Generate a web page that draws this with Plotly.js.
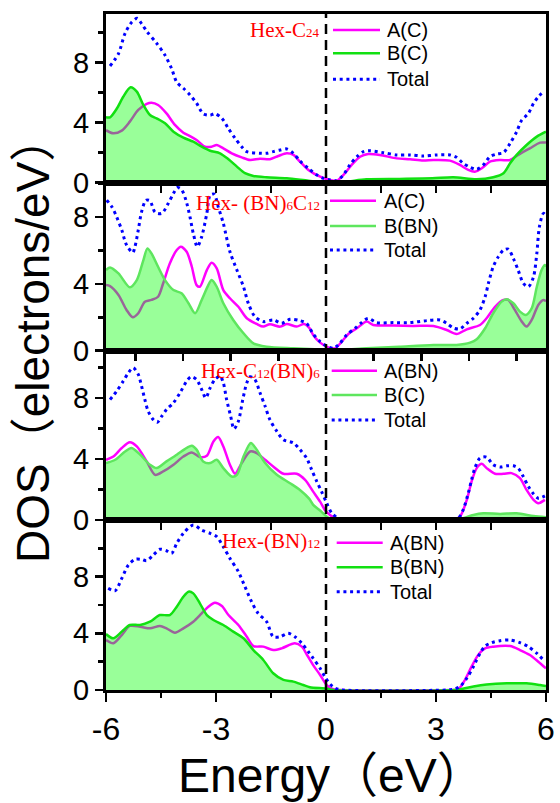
<!DOCTYPE html>
<html><head><meta charset="utf-8">
<script src="https://cdn.plot.ly/plotly-3.0.1.min.js"></script>
<style>html,body{margin:0;padding:0;background:#fff;}#chart{width:560px;height:803px;}</style>
</head><body><div id="chart"></div>
<script>
// ---------- Panel 1: Hex-C24 ----------
const p1_A_x = [-6,-5.8,-5.57,-5.35,-5.12,-4.89,-4.76,-4.58,-4.35,-4.12,-3.89,-3.71,-3.53,-3.3,-3.12,-2.98,-2.8,-2.57,-2.3,-2.07,-1.8,-1.53,-1.3,-1.07,-0.89,-0.71,-0.48,-0.16,0.11,0.29,0.47,0.7,0.93,1.15,1.47,1.93,2.29,2.65,2.93,3.38,3.65,3.88,4.06,4.25,4.47,4.75,5.02,5.24,5.56,5.84,6];
const p1_A_y = [3.5,3.29,3.47,4.07,4.85,5.25,5.33,5.18,4.62,3.85,3.33,3.11,2.85,2.4,2.4,2.51,2.29,1.96,1.69,1.51,1.6,1.56,1.78,1.96,1.85,1.4,0.85,0.4,0.18,0.13,0.5,1.18,1.73,1.91,1.85,1.62,1.56,1.47,1.51,1.47,1.18,0.85,0.73,0.96,1.4,1.51,1.51,1.85,2.29,2.67,2.67];
const p1_B_x = [-6,-5.89,-5.7,-5.53,-5.33,-5.16,-4.98,-4.8,-4.62,-4.39,-4.16,-3.89,-3.62,-3.39,-3.16,-2.89,-2.66,-2.43,-2.21,-1.98,-1.62,-1.07,-0.48,0,0.5,1.1,2.0,2.9,3.47,4.11,4.56,4.84,5.02,5.2,5.47,5.75,6];
const p1_B_y = [4.36,4.36,4.96,5.73,6.36,6.07,5.18,4.51,4.29,3.96,3.4,3.0,2.73,2.4,2.13,1.96,1.56,1.07,0.63,0.45,0.36,0.29,0.13,0.02,0.05,0.22,0.25,0.29,0.36,0.22,0.36,0.63,1.29,1.85,2.51,3.07,3.4];
const p1_T_x = [-5.89,-5.66,-5.48,-5.3,-5.15,-5.03,-4.88,-4.62,-4.39,-4.21,-4.07,-3.89,-3.71,-3.53,-3.35,-3.16,-3.03,-2.84,-2.66,-2.48,-2.3,-2.16,-1.8,-1.62,-1.44,-1.25,-1.07,-0.89,-0.71,-0.48,-0.25,-0.07,0.11,0.29,0.47,0.65,0.84,1.02,1.2,1.56,1.93,2.29,2.65,3.02,3.38,3.56,3.74,3.93,4.11,4.29,4.47,4.66,4.84,5.02,5.2,5.34,5.52,5.66,5.79,5.93];
const p1_T_y = [7.78,8.6,9.96,10.7,10.96,10.6,10.07,9.3,8.5,7.6,6.7,6.3,5.85,5.3,4.6,4.5,4.6,4.3,3.6,2.96,2.4,2.07,1.96,1.96,2.07,2.18,2.25,1.96,1.45,0.95,0.51,0.29,0.18,0.13,0.51,1.18,1.73,2.07,2.13,2.0,1.85,1.85,1.78,1.85,1.85,1.69,1.29,1.03,0.89,1.18,1.73,1.91,2.0,2.62,3.4,4.18,4.62,5.29,5.73,6.07];

// ---------- Panel 2: Hex-(BN)6C12 ----------
const p2_A_x = [-6,-5.89,-5.66,-5.44,-5.27,-5.12,-4.94,-4.76,-4.58,-4.44,-4.26,-4.07,-3.96,-3.8,-3.66,-3.53,-3.44,-3.25,-3.12,-2.98,-2.8,-2.62,-2.39,-2.16,-1.89,-1.71,-1.53,-1.25,-1.07,-0.8,-0.6,-0.45,-0.35,-0.16,0.06,0.25,0.43,0.61,0.84,1.11,1.29,1.84,2.38,2.93,3.29,3.56,3.84,4.2,4.38,4.61,4.84,4.97,5.15,5.34,5.47,5.61,5.79,5.93,6];
const p2_A_y = [3.93,3.87,3.34,2.44,2.0,2.24,2.93,3.04,3.23,4.04,5.23,6.03,6.23,5.93,5.03,3.93,3.83,4.83,5.27,4.93,3.63,3.14,2.63,1.94,1.6,1.44,1.58,1.44,1.6,1.44,1.6,1.35,0.94,0.48,0.2,0.14,0.54,1.0,1.34,1.74,1.54,1.5,1.48,1.48,1.24,1.0,1.28,1.54,1.94,2.63,3.04,3.04,2.44,1.74,1.44,1.84,2.74,3.04,2.96];
const p2_B_x = [-6,-5.89,-5.66,-5.35,-5.16,-4.98,-4.87,-4.76,-4.58,-4.39,-4.16,-3.94,-3.75,-3.57,-3.39,-3.21,-3.12,-2.98,-2.8,-2.53,-2.25,-1.98,-1.62,-0.89,-0.3,0.2,1.1,2.0,2.93,3.56,3.93,4.11,4.34,4.56,4.79,4.93,5.11,5.29,5.45,5.61,5.75,5.88,5.97,6];
const p2_B_y = [4.83,4.99,4.63,3.8,4.23,5.43,6.13,5.83,5.03,4.23,3.63,3.44,2.84,2.24,3.04,3.93,4.23,3.83,2.84,1.84,1.04,0.44,0.24,0.14,0.08,0.03,0.14,0.24,0.34,0.34,0.48,0.68,1.34,2.24,2.94,3.08,2.84,2.34,2.14,2.54,3.83,4.83,5.13,5.03];
const p2_T_x = [-5.98,-5.84,-5.71,-5.57,-5.44,-5.27,-5.21,-5.12,-5.03,-4.91,-4.8,-4.66,-4.48,-4.3,-4.16,-4.05,-3.94,-3.82,-3.71,-3.62,-3.51,-3.39,-3.25,-3.16,-3.05,-2.94,-2.8,-2.62,-2.43,-2.25,-2.12,-1.94,-1.71,-1.44,-1.21,-0.98,-0.71,-0.53,-0.35,-0.16,0.02,0.2,0.38,0.56,0.79,0.97,1.15,1.38,1.84,2.29,2.75,3.11,3.29,3.47,3.65,3.84,4.02,4.2,4.34,4.43,4.56,4.7,4.84,4.97,5.11,5.24,5.38,5.52,5.66,5.75,5.82,5.93,6];
const p2_T_y = [9.02,8.62,8.02,7.23,6.33,5.87,6.23,7.23,8.32,9.02,8.98,8.29,8.23,8.83,9.43,9.78,9.66,9.02,8.02,7.03,6.23,6.83,8.23,9.32,9.38,8.62,7.63,5.93,4.83,3.83,2.84,2.04,1.74,1.84,1.64,1.88,1.8,1.64,1.0,0.54,0.28,0.14,0.44,0.94,1.34,1.68,1.94,1.68,1.68,1.68,1.8,1.84,1.64,1.36,1.3,1.64,1.94,2.44,3.23,4.04,5.03,5.63,6.03,6.09,5.53,4.83,4.04,3.83,4.43,5.83,7.43,8.23,8.07];

// ---------- Panel 3: Hex-C12(BN)6 ----------
const p3_A_x = [-6,-5.8,-5.57,-5.35,-5.16,-4.89,-4.66,-4.44,-4.16,-3.89,-3.66,-3.44,-3.25,-3.07,-2.94,-2.8,-2.62,-2.48,-2.3,-2.07,-1.89,-1.66,-1.44,-1.16,-0.8,-0.57,-0.35,-0.16,-0.03,0.11,0.29,0.5,3.4,3.65,3.84,3.97,4.11,4.25,4.38,4.61,4.84,5.06,5.29,5.47,5.66,5.79,5.97];
const p3_A_y = [3.95,4.16,4.72,5.09,4.82,3.84,2.96,3.18,3.62,4.16,4.43,4.12,4.21,5.15,5.44,4.82,3.62,3.03,3.73,4.49,4.39,3.95,3.51,3.03,3.03,2.63,1.86,1.2,0.66,0.33,0.05,0,0,0.22,1.32,2.52,3.4,3.68,3.4,3.03,3.03,3.07,2.74,1.97,1.32,1.1,1.32];
const p3_B_x = [-6,-5.75,-5.48,-5.3,-5.07,-4.8,-4.62,-4.35,-4.07,-3.85,-3.66,-3.53,-3.35,-3.16,-2.98,-2.8,-2.57,-2.43,-2.25,-2.05,-1.89,-1.66,-1.34,-0.98,-0.71,-0.46,-0.35,-0.16,0.02,0.2,3.6,3.74,4.02,4.29,4.75,5.2,5.66,6];
const p3_B_y = [3.73,3.95,4.49,4.72,4.28,3.62,3.4,3.84,4.28,4.65,4.87,4.61,3.84,3.73,3.95,3.4,2.85,2.96,4.16,5.05,4.61,3.73,2.96,2.41,1.97,1.4,0.99,0.62,0.22,0,0,0.11,0.33,0.44,0.4,0.44,0.26,0.18];
const p3_T_x = [-5.89,-5.71,-5.53,-5.39,-5.26,-5.12,-5.03,-4.94,-4.85,-4.71,-4.6,-4.48,-4.35,-4.16,-3.98,-3.8,-3.68,-3.53,-3.39,-3.28,-3.16,-3.03,-2.89,-2.8,-2.71,-2.6,-2.51,-2.39,-2.27,-2.16,-2.07,-1.94,-1.8,-1.66,-1.53,-1.34,-1.16,-0.89,-0.71,-0.53,-0.39,-0.25,-0.12,0.02,0.16,0.34,0.6,3.4,3.61,3.74,3.88,3.97,4.06,4.2,4.38,4.56,4.75,4.93,5.11,5.24,5.38,5.52,5.66,5.79,5.97];
const p3_T_y = [7.89,8.44,9.1,9.65,9.98,9.54,8.77,7.89,7.13,6.58,6.4,6.8,7.24,7.68,8.34,9.1,9.39,9.21,8.55,8.0,8.66,9.21,9.43,8.99,7.89,6.8,5.97,6.47,7.89,8.99,9.39,9.21,8.34,7.45,6.58,5.81,5.26,5.05,4.61,4.06,3.29,2.52,1.86,1.1,0.44,0.11,0,0,0.11,0.66,1.76,2.63,3.4,4.06,4.12,3.62,3.47,3.55,3.55,3.4,2.85,2.19,1.71,1.43,1.58];

// ---------- Panel 4: Hex-(BN)12 ----------
const p4_A_x = [-6,-5.8,-5.57,-5.35,-5.07,-4.8,-4.53,-4.35,-4.12,-3.89,-3.62,-3.39,-3.21,-3.03,-2.84,-2.66,-2.39,-2.16,-1.98,-1.71,-1.44,-1.21,-0.85,-0.66,-0.5,-0.35,-0.16,0.02,0.2,0.4,3.4,3.61,3.79,3.97,4.15,4.34,4.56,5.02,5.29,5.56,5.79,6];
const p4_A_y = [3.53,3.3,3.88,4.52,4.47,4.35,4.52,4.35,4.04,4.35,4.82,5.41,5.88,6.16,5.93,5.29,4.59,3.76,3.1,3.06,2.82,2.94,3.3,3.06,2.4,1.76,1.06,0.35,0.05,0,0,0.05,0.71,1.65,2.47,2.94,3.06,3.1,2.82,2.47,2.0,1.53];
const p4_B_x = [-6,-5.8,-5.57,-5.35,-5.07,-4.8,-4.53,-4.26,-4.07,-3.89,-3.75,-3.62,-3.44,-3.25,-3.07,-2.8,-2.53,-2.25,-1.98,-1.71,-1.44,-1.16,-0.89,-0.62,-0.44,0.02,0.2,3.5,3.7,4.02,4.38,4.93,5.47,5.84,6];
const p4_B_y = [3.95,3.65,4.12,4.59,4.59,4.82,5.29,5.29,5.88,6.58,6.94,6.82,6.12,5.29,4.94,4.59,4.12,3.65,2.82,2.12,1.18,0.71,0.59,0.35,0.2,0.1,0,0,0.07,0.24,0.38,0.47,0.47,0.35,0.28];
const p4_T_x = [-5.94,-5.75,-5.57,-5.39,-5.21,-5.03,-4.89,-4.71,-4.53,-4.35,-4.21,-4.07,-3.89,-3.62,-3.39,-3.16,-2.98,-2.8,-2.62,-2.39,-2.21,-2.03,-1.85,-1.62,-1.44,-1.25,-1.03,-0.85,-0.66,-0.48,-0.35,-0.16,-0.03,0.11,0.25,0.45,3.3,3.47,3.65,3.84,4.02,4.2,4.34,4.52,4.75,5.02,5.29,5.52,5.75,5.91];
const p4_T_y = [7.18,7.01,7.88,8.82,9.22,9.22,9.13,9.53,9.93,9.83,9.65,10.35,11.06,11.64,11.29,11.06,10.82,10.11,9.29,8.35,7.29,6.23,5.41,4.82,3.76,3.76,4.0,3.76,3.3,2.7,2.24,1.53,0.94,0.42,0.12,0,0,0.05,0.24,0.83,1.65,2.59,3.1,3.34,3.48,3.53,3.34,3.06,2.59,2.17];

// ---------- Labels ----------
const panelTitles = [
  'Hex-C<span style="font-size:13px">24</span>',
  'Hex- (BN)<span style="font-size:13px">6</span>C<span style="font-size:13px">12</span>',
  'Hex-C<span style="font-size:13px">12</span>(BN)<span style="font-size:13px">6</span>',
  'Hex-(BN)<span style="font-size:13px">12</span>'
];
const legendNames = [
  ['A(C)', 'B(C)', 'Total'],
  ['A(C)', 'B(BN)', 'Total'],
  ['A(BN)', 'B(C)', 'Total'],
  ['A(BN)', 'B(BN)', 'Total']
];
const xTickVals = [-6, -3, 0, 3, 6];
const xTickText = ['-6', '-3', '0', '3', '6'];
const yTickVals = [0, 4, 8];
const yTickText = ['0', '4', '8'];
const xTitle = 'Energy（eV）';
const yTitle = 'DOS（electrons/eV）';

const panels = [
  {A: [p1_A_x, p1_A_y], B: [p1_B_x, p1_B_y], T: [p1_T_x, p1_T_y]},
  {A: [p2_A_x, p2_A_y], B: [p2_B_x, p2_B_y], T: [p2_T_x, p2_T_y]},
  {A: [p3_A_x, p3_A_y], B: [p3_B_x, p3_B_y], T: [p3_T_x, p3_T_y]},
  {A: [p4_A_x, p4_A_y], B: [p4_B_x, p4_B_y], T: [p4_T_x, p4_T_y]}
];

// ---------- Layout geometry ----------
const W = 560, H = 803;
const M = {l: 106, r: 14, t: 14, b: 113};
const plotH = H - M.t - M.b, plotW = W - M.l - M.r;
const py = v => (H - M.b - v) / plotH;   // pixel row -> paper y
const px = v => (v - M.l) / plotW;       // pixel col -> paper x

const domains = [[0.7505, 1], [0.502, 0.7505], [0.2515, 0.502], [0, 0.2515]];
const yRanges = [[0, 11.25], [0, 10.07], [0, 11.1], [0, 12]];
const greens = ['#11e011', '#5ee65e', '#5ee65e', '#11e011'];
const FONT = 'Liberation Sans, Arial, Noto Sans CJK SC, sans-serif';

const traces = [];
const layout = {
  width: W, height: H,
  margin: M,
  paper_bgcolor: 'white', plot_bgcolor: 'white',
  showlegend: false,
  font: {family: FONT, color: 'black'},
  shapes: [], annotations: []
};

const innerTicks = [
  [-4.5, -3, -1.5, 0, 1.5, 3, 4.5],
  [-5.2, -3.9, -2.6, -1.3, 0, 1.3, 2.6, 3.9, 5.2],
  [-4.5, -3, -1.5, 0, 1.5, 3, 4.5]
];

panels.forEach((p, i) => {
  const s = i === 0 ? '' : String(i + 1);
  const xa = 'x' + s, ya = 'y' + s;
  const spl = {shape: 'spline', smoothing: 0.8};
  traces.push({x: p.A[0], y: p.A[1], xaxis: xa, yaxis: ya, mode: 'lines',
    line: Object.assign({color: '#ff00ff', width: 2.5}, spl), hoverinfo: 'skip'});
  traces.push({x: p.B[0], y: p.B[1], xaxis: xa, yaxis: ya, mode: 'lines', fill: 'tozeroy',
    fillcolor: 'rgba(0,255,0,0.4)', line: Object.assign({color: 'rgba(0,0,0,0)', width: 0}, spl), hoverinfo: 'skip'});
  traces.push({x: p.B[0], y: p.B[1], xaxis: xa, yaxis: ya, mode: 'lines',
    line: Object.assign({color: greens[i], width: 2.5}, spl), hoverinfo: 'skip'});
  traces.push({x: p.T[0], y: p.T[1], xaxis: xa, yaxis: ya, mode: 'lines',
    line: Object.assign({color: '#0000ff', width: 3, dash: '3px,3.7px'}, spl), hoverinfo: 'skip'});

  const isBottom = i === 3;
  layout['xaxis' + s] = {
    domain: [0, 1], range: [-6, 6], anchor: ya,
    showline: true, linewidth: 3, linecolor: 'black', mirror: true,
    showgrid: false, zeroline: false, fixedrange: true,
    ticks: 'outside', tickcolor: 'black', tickwidth: 2.5,
    ticklen: isBottom ? 9 : 7,
    tickvals: isBottom ? xTickVals : innerTicks[i],
    ticktext: isBottom ? xTickText : innerTicks[i].map(String),
    showticklabels: isBottom,
    tickfont: {size: 32, family: FONT, color: 'black'},
    minor: isBottom ? {tickvals: [-4.5, -1.5, 1.5, 4.5], ticklen: 5, tickwidth: 2.5, tickcolor: 'black', ticks: 'outside'} : undefined
  };
  layout['yaxis' + s] = {
    domain: domains[i], range: yRanges[i], anchor: xa,
    showline: true, linewidth: 3, linecolor: 'black', mirror: true,
    showgrid: false, zeroline: false, fixedrange: true,
    ticks: 'outside', tickcolor: 'black', tickwidth: 2.5, ticklen: 8,
    tickvals: yTickVals, ticktext: yTickText,
    tickfont: {size: 29, family: FONT, color: 'black'},
    minor: {tickvals: [2, 6, 10], ticklen: 5, tickwidth: 2.5, tickcolor: 'black', ticks: 'outside'}
  };
});

// vertical dashed Fermi level line
layout.shapes.push({type: 'line', xref: 'x', yref: 'paper', x0: 0, x1: 0, y0: 0, y1: 1,
  line: {color: 'black', width: 2.5, dash: '10px,6px'}});

// manual legends (sample lines + text)
const legGeom = [
  {x0: 333, x1: 380, tx: 385, ys: [30, 53.3, 79.3]},
  {x0: 330, x1: 376, tx: 381.7, ys: [200.7, 226, 250]},
  {x0: 331.7, x1: 377, tx: 381.7, ys: [370.7, 395, 420]},
  {x0: 336.7, x1: 382.7, tx: 388, ys: [542.7, 567.3, 591.7]}
];
legGeom.forEach((g, i) => {
  const styles = [
    {color: '#ff00ff', width: 2.5},
    {color: greens[i], width: 2.5},
    {color: '#0000ff', width: 3, dash: '3px,3.7px'}
  ];
  g.ys.forEach((yy, k) => {
    layout.shapes.push({type: 'line', xref: 'paper', yref: 'paper',
      x0: px(g.x0), x1: px(g.x1), y0: py(yy), y1: py(yy), line: styles[k]});
    layout.annotations.push({xref: 'paper', yref: 'paper', x: px(g.tx), y: py(yy),
      xanchor: 'left', yanchor: 'middle', showarrow: false, text: legendNames[i][k],
      font: {size: 20, family: FONT, color: 'black'}});
  });
});

// panel titles (red serif)
const titleBaselines = [35.7, 209.3, 376.7, 547.3];
panelTitles.forEach((t, i) => {
  layout.annotations.push({xref: 'paper', yref: 'paper', x: px(322), y: py(titleBaselines[i] - 6),
    xanchor: 'right', yanchor: 'middle', showarrow: false, text: t,
    font: {size: 21, family: 'Liberation Serif, Times New Roman, serif', color: '#ff0000'}});
});

// axis titles
layout.annotations.push({xref: 'paper', yref: 'paper', x: px(331), y: py(775),
  xanchor: 'center', yanchor: 'middle', showarrow: false, text: xTitle,
  font: {size: 48, family: FONT, color: 'black'}});
layout.annotations.push({xref: 'paper', yref: 'paper', x: px(33), y: py(340),
  xanchor: 'center', yanchor: 'middle', showarrow: false, text: yTitle, textangle: -90,
  font: {size: 46, family: FONT, color: 'black'}});

Plotly.newPlot('chart', traces, layout, {staticPlot: true, displayModeBar: false});
</script></body></html>
